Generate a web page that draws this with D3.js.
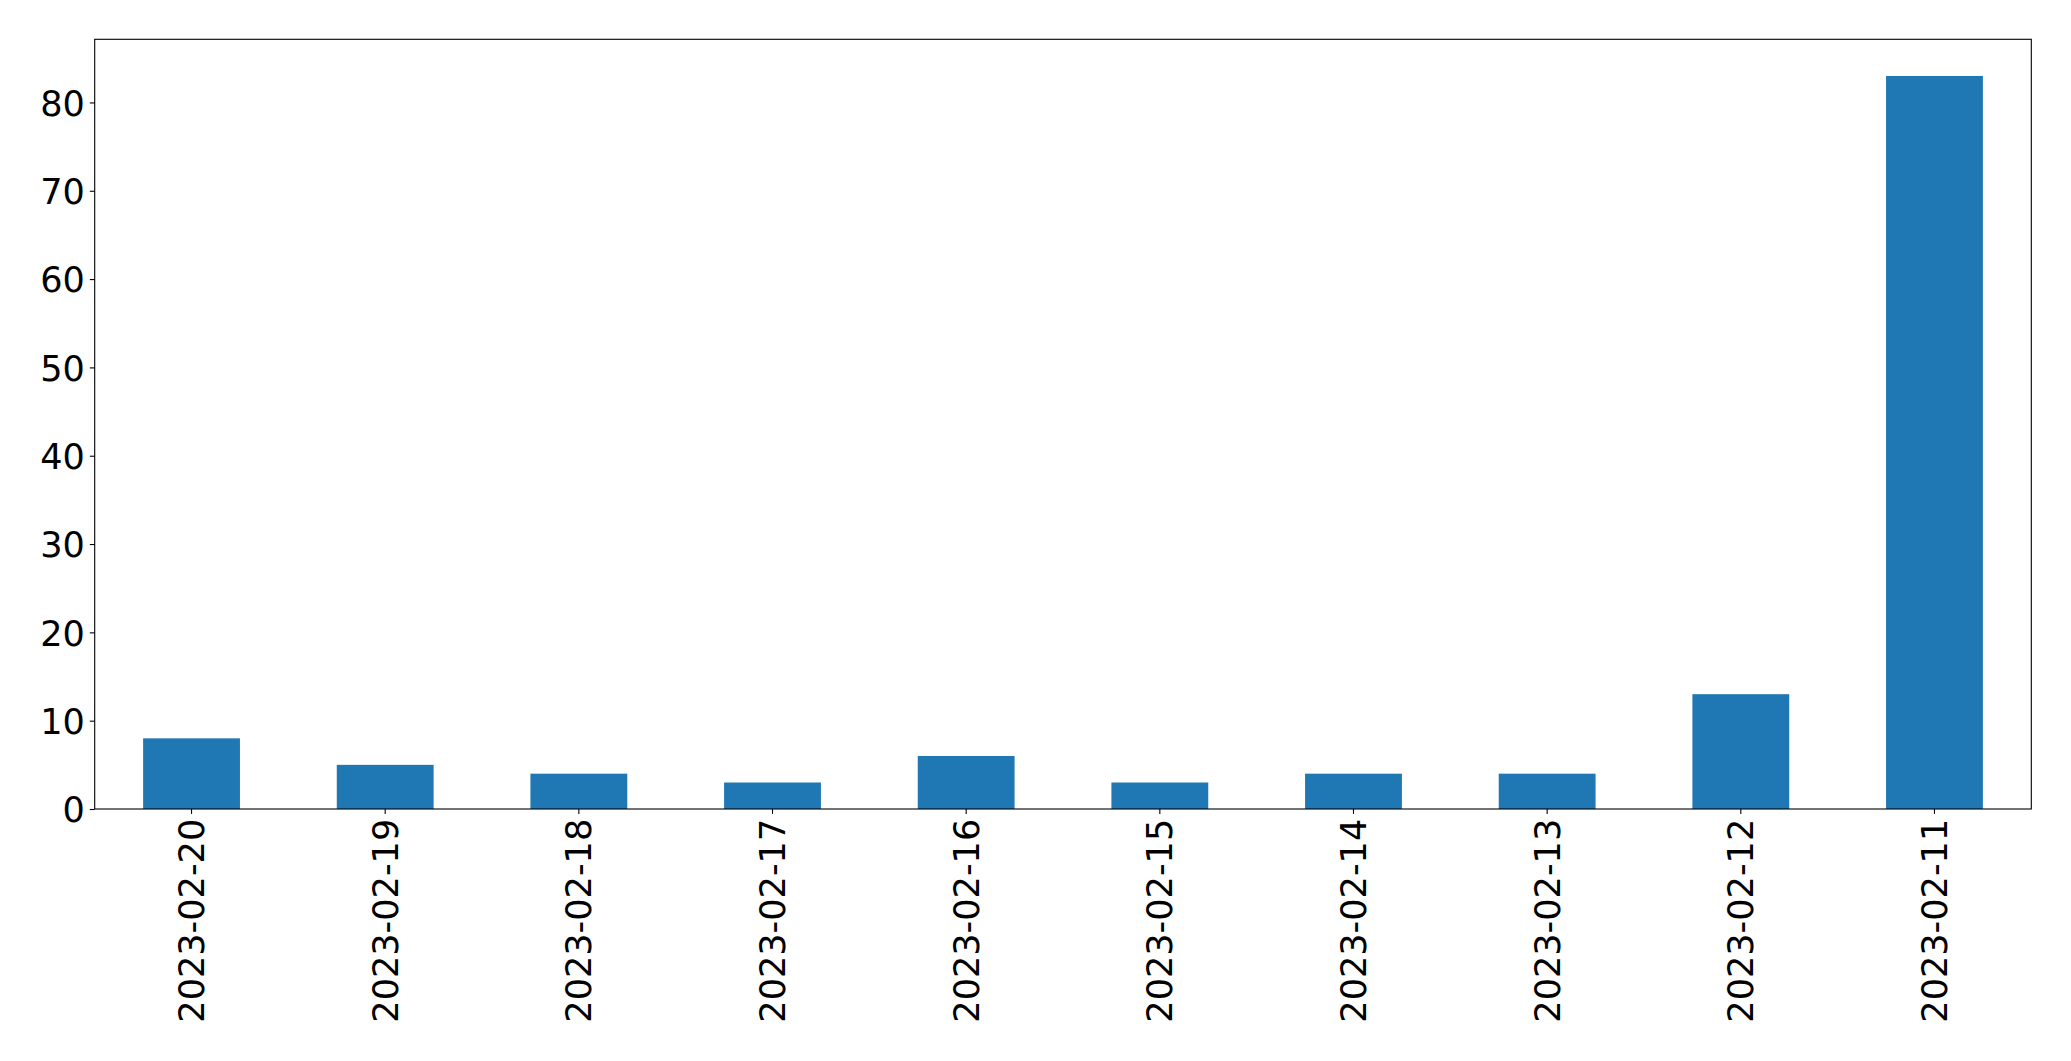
<!DOCTYPE html>
<html><head><meta charset="utf-8">
<script src="https://cdn.jsdelivr.net/npm/d3@7"></script>
<style>body{margin:0;background:#fff;} text{font-family:"DejaVu Sans",sans-serif;}</style>
</head><body>
<svg id="chart" width="2071" height="1061"></svg>
<script>
const categories = ["2023-02-20","2023-02-19","2023-02-18","2023-02-17","2023-02-16","2023-02-15","2023-02-14","2023-02-13","2023-02-12","2023-02-11"];
const values = [8,5,4,3,6,3,4,4,13,83];
const yTicks = [0,10,20,30,40,50,60,70,80];

const svg = d3.select("#chart");
const m = {left:94.7, right:2031.3, top:39.3, bottom:809};
const x = d3.scaleBand().domain(categories).range([m.left, m.right]).paddingInner(0.5).paddingOuter(0.25);
const y = d3.scaleLinear().domain([0, d3.max(values)*1.05]).range([m.bottom, m.top]);

svg.append("g").selectAll("rect").data(values).join("rect")
  .attr("x",(d,i)=>x(categories[i]))
  .attr("width",x.bandwidth())
  .attr("y",d=>y(d))
  .attr("height",d=>y(0)-y(d))
  .attr("fill","#1f77b4");

const fs = "35.1px";
const yAxis = svg.append("g").attr("transform",`translate(${m.left},0)`)
  .call(d3.axisLeft(y).tickValues(yTicks).tickSize(4.9).tickPadding(4.9).tickSizeOuter(0));
yAxis.select(".domain").remove();
yAxis.selectAll("line").attr("stroke","#000").attr("stroke-width",1.1);
yAxis.selectAll("text").style("font-size",fs).attr("fill","#000").attr("dy","0.36em");

const xAxis = svg.append("g").attr("transform",`translate(0,${m.bottom})`)
  .call(d3.axisBottom(x).tickSize(4.9).tickPadding(4.9).tickSizeOuter(0));
xAxis.select(".domain").remove();
xAxis.selectAll("line").attr("stroke","#000").attr("stroke-width",1.1);
xAxis.selectAll("text").style("font-size",fs).attr("fill","#000")
  .attr("transform","rotate(-90)")
  .attr("text-anchor","end")
  .attr("x",-9.8).attr("y",0).attr("dy","0.36em");

svg.append("rect").attr("x",m.left).attr("y",m.top)
  .attr("width",m.right-m.left).attr("height",m.bottom-m.top)
  .attr("fill","none").attr("stroke","#000").attr("stroke-width",1.1);
</script>
</body></html>
